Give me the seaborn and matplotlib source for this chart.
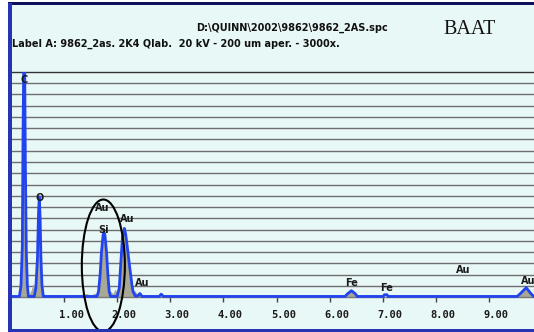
import matplotlib
matplotlib.use("Agg")
import matplotlib.pyplot as plt
import matplotlib.transforms as mtransforms
from matplotlib.patches import Rectangle, Ellipse
import numpy as np
import pandas as pd
import seaborn as sns

# EDS spectrum: energy (keV) vs. intensity (grid units, full scale = 20)
outline_kev = [0.00, 0.16, 0.19, 0.215, 0.228, 0.24, 0.26, 0.272, 0.29, 0.31, 0.33,
               0.44, 0.47, 0.50, 0.52, 0.535, 0.55, 0.565, 0.585, 0.61,
               1.62, 1.65, 1.68, 1.705, 1.735, 1.753, 1.77, 1.80, 1.825, 1.85, 1.875,
               2.00, 2.04, 2.07, 2.10, 2.135, 2.16, 2.19, 2.21, 2.235, 2.255, 2.28, 2.30, 2.34,
               2.39, 2.43, 2.47, 2.79, 2.83, 2.87,
               6.29, 6.34, 6.41, 6.48, 6.52,
               7.01, 7.03, 7.08, 7.10,
               9.53, 9.60, 9.70, 9.78, 9.84, 9.90]
outline_cts = [0.05, 0.05, 1.0, 4.5, 14.4, 20.0, 20.0, 12.0, 4.0, 1.0, 0.05,
               0.05, 0.8, 3.5, 7.5, 8.9, 7.0, 3.5, 1.0, 0.05,
               0.05, 0.5, 2.0, 4.0, 5.5, 5.75, 5.5, 4.0, 2.0, 0.5, 0.05,
               0.05, 0.8, 3.1, 5.3, 6.1, 5.6, 4.5, 3.7, 2.7, 1.96, 1.0, 0.47, 0.1,
               0.1, 0.3, 0.05, 0.05, 0.25, 0.05,
               0.05, 0.3, 0.56, 0.3, 0.05,
               0.05, 0.2, 0.2, 0.05,
               0.05, 0.35, 0.83, 0.35, 0.05, 0.05]

counts_kev = [0.00, 0.17, 0.20, 0.222, 0.232, 0.255, 0.27, 0.29, 0.32,
              0.34, 0.38, 0.42, 0.45, 0.49, 0.515, 0.53, 0.55, 0.57, 0.60, 0.63,
              0.90, 1.20, 1.43, 1.50, 1.58, 1.62,
              1.65, 1.68, 1.705, 1.735, 1.753, 1.77, 1.80, 1.825, 1.85, 1.88,
              1.92, 1.96, 2.00, 2.04, 2.07, 2.10, 2.135, 2.16, 2.19, 2.21, 2.235,
              2.255, 2.28, 2.30, 2.33, 2.37, 2.41, 2.46, 2.52, 2.80,
              6.29, 6.34, 6.41, 6.48, 6.52,
              9.53, 9.60, 9.70, 9.78, 9.84, 9.90]
counts_cts = [0.0, 0.1, 1.5, 8.0, 14.4, 14.4, 8.0, 2.5, 0.4,
              0.2, 0.6, 1.2, 0.9, 2.0, 5.0, 6.3, 5.5, 2.5, 0.5, 0.2,
              0.1, 0.15, 0.3, 0.15, 0.35, 0.2,
              0.5, 1.9, 3.8, 5.2, 5.4, 5.2, 3.8, 1.9, 0.6, 0.5,
              0.3, 0.7, 0.4, 0.8, 2.9, 5.0, 5.8, 5.4, 4.3, 3.5, 2.5,
              1.8, 0.9, 0.5, 0.6, 0.3, 0.5, 0.15, 0.1, 0.05,
              0.0, 0.3, 0.56, 0.3, 0.0,
              0.0, 0.35, 0.83, 0.35, 0.05, 0.05]

# Peak identification labels
peak_names = ["C", "O", "Au", "Si", "Au", "Au", "Fe", "Fe", "Au", "Au"]
peak_kev = [0.247, 0.534, 1.71, 1.75, 2.18, 2.47, 6.42, 7.08, 8.51, 9.73]
peak_lvl = [19.3, 8.8, 7.9, 5.95, 6.93, 1.22, 1.24, 0.76, 2.44, 1.42]

tick_kev = [1, 2, 3, 4, 5, 6, 7, 8, 9]
tick_text = ["1.00", "2.00", "3.00", "4.00", "5.00", "6.00", "7.00", "8.00", "9.00"]

file_name = "D:\\QUINN\\2002\\9862\\9862_2AS.spc"
label_line = "Label A: 9862_2as. 2K4 Qlab.  20 kV - 200 um aper. - 3000x."
badge = "BAAT"

BG = "#e8f8f6"
BLUE = "#2244ee"
FILL = "#a9a894"
W, H = 534, 332

sns.set_theme(style="white")
plt.rcParams["font.family"] = ["DejaVu Sans"]

fig = plt.figure(figsize=(W / 100, H / 100), dpi=100, facecolor=BG)


def fx(px):
    return px / W


def fy(py):
    return 1 - py / H


# window frame
fig.patches.append(Rectangle((0, 0), fx(8), 1, transform=fig.transFigure,
                             facecolor="white", edgecolor="none", zorder=0))
fig.patches.append(Rectangle((0, fy(2.5)), 1, 2.5 / H, transform=fig.transFigure,
                             facecolor="white", edgecolor="none", zorder=0))
fig.patches.append(Rectangle((fx(8), fy(4.7)), 1, 2.2 / H, transform=fig.transFigure,
                             facecolor="#10105a", edgecolor="none", zorder=5))
fig.patches.append(Rectangle((fx(8), 0), 3.6 / W, fy(2.5), transform=fig.transFigure,
                             facecolor="#2434b4", edgecolor="none", zorder=5))
fig.patches.append(Rectangle((fx(8), 0), 1, 2.6 / H, transform=fig.transFigure,
                             facecolor="#2434b4", edgecolor="none", zorder=5))

ymin, ymax = -0.4, 20.0
x0_px, top_px, bot_px = 10.9, 72.0, 301.5
ax = fig.add_axes([fx(x0_px), fy(bot_px), 1 - fx(x0_px), (bot_px - top_px) / H])
ax.set_facecolor(BG)
ax.set_xlim(0, (W - x0_px) / 53.125)
ax.set_ylim(ymin, ymax)

# horizontal scale lines
for lvl in range(1, 21):
    ax.axhline(lvl, color="#333333" if lvl == 20 else "#6e6e6e", lw=1.0,
               zorder=1, clip_on=False)

spectrum = pd.DataFrame({"kev": counts_kev, "cts": counts_cts})
outline = pd.DataFrame({"kev": outline_kev, "cts": outline_cts})

ax.fill_between(spectrum["kev"], 0, spectrum["cts"], color=FILL, lw=0, zorder=2)
sns.lineplot(data=outline, x="kev", y="cts", ax=ax, color=BLUE, lw=2.0,
             estimator=None, sort=False, zorder=3)

for name, k, v in zip(peak_names, peak_kev, peak_lvl):
    ax.text(k, v, name, ha="center", va="center", fontsize=7, fontweight="bold",
            color="#1a1a1a", zorder=4, clip_on=False)

# marked region around the Si / Au M overlap
ax.add_patch(Ellipse((1.74, 2.8), 0.81, 11.73, facecolor="none", edgecolor="black",
                     lw=1.5, zorder=6, clip_on=False))

for s in ["top", "left", "right"]:
    ax.spines[s].set_visible(False)
ax.spines["bottom"].set_position(("data", 0))
ax.spines["bottom"].set_color("#777777")
ax.spines["bottom"].set_linewidth(1.0)
ax.spines["bottom"].set_zorder(2.5)

ax.set_xticks(tick_kev)
ax.set_xticklabels(tick_text)
ax.set_xticks(np.arange(0.1, 9.85, 0.1), minor=True)
ax.set_yticks([])
ax.tick_params(axis="x", which="major", direction="out", length=3.5, width=1,
               color="#444444", pad=6, labelsize=7.5)
ax.tick_params(axis="x", which="minor", direction="out", length=1.5, width=0.8,
               color="#8a8a8a")
ax.tick_params(axis="x", bottom=True)
shift = mtransforms.ScaledTranslation(7 / 100, 0, fig.dpi_scale_trans)
for lab in ax.get_xticklabels():
    lab.set_fontfamily("DejaVu Sans Mono")
    lab.set_fontweight("bold")
    lab.set_color("#1a1a1a")
    lab.set_transform(lab.get_transform() + shift)
ax.set_xlabel("")
ax.set_ylabel("")

fig.text(fx(292), fy(28), file_name, ha="center", va="center", fontsize=7,
         fontweight="bold", color="#111111")
fig.text(fx(11.5), fy(44), label_line, ha="left", va="center", fontsize=7,
         fontweight="bold", color="#111111")
fig.text(fx(443), fy(29), badge, ha="left", va="center", fontsize=14.5,
         family="Liberation Serif", color="#111111")

fig.savefig("out.png", dpi=100, facecolor=BG)
